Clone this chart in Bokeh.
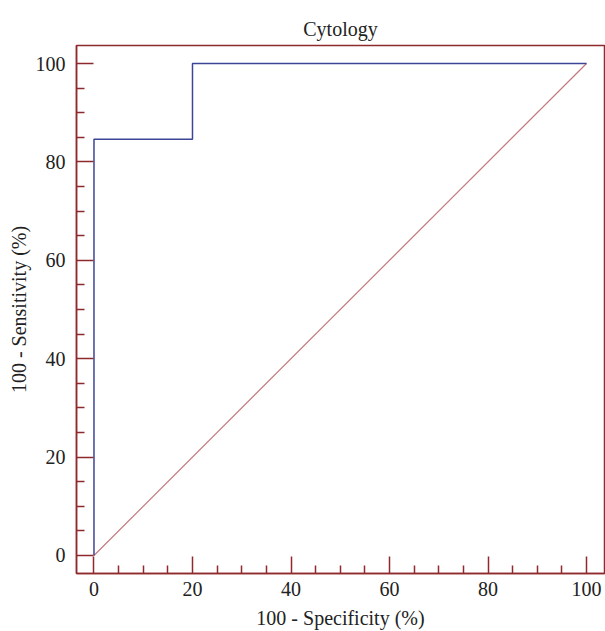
from bokeh.plotting import figure
from bokeh.models import Range1d, FixedTicker
from bokeh.embed import file_html
from bokeh.resources import INLINE

# ROC curve data (100 - Specificity, Sensitivity)
roc_x = [0, 0, 20, 20, 100]
roc_y = [0, 84.6, 84.6, 100, 100]
diag_x = [0, 100]
diag_y = [0, 100]
major_ticks = [0, 20, 40, 60, 80, 100]
minor_ticks = [5, 10, 15, 25, 30, 35, 45, 50, 55, 65, 70, 75, 85, 90, 95]

FONT = "Liberation Serif"
FRAME = "#8e2a2e"

p = figure(width=605, height=631, output_backend="svg", toolbar_location=None,
           x_range=Range1d(-3.55, 103.65), y_range=Range1d(-3.66, 103.66),
           title="Cytology", x_axis_label="100 - Specificity (%)",
           y_axis_label="100 - Sensitivity (%)")
p.min_border_left = 76
p.min_border_right = 1
p.min_border_bottom = 58
p.min_border_top = 45

p.title.text_font = FONT
p.title.text_font_size = "20px"
p.title.text_font_style = "normal"
p.title.align = "center"
p.title.vertical_align = "middle"
p.title.text_color = "#222222"
p.title.offset = 0

p.xgrid.visible = False
p.ygrid.visible = False
p.outline_line_color = FRAME
p.outline_line_width = 1.5
p.background_fill_color = "white"
p.border_fill_color = "white"

for ax in (p.xaxis[0], p.yaxis[0]):
    ax.ticker = FixedTicker(ticks=major_ticks, minor_ticks=minor_ticks)
    ax.axis_line_color = FRAME
    ax.axis_line_width = 1.5
    ax.major_tick_line_color = FRAME
    ax.minor_tick_line_color = FRAME
    ax.major_tick_line_width = 1.5
    ax.minor_tick_line_width = 1.5
    ax.major_tick_in = 17
    ax.major_tick_out = 0
    ax.minor_tick_in = 8
    ax.minor_tick_out = 0
    ax.major_label_text_font = FONT
    ax.major_label_text_font_size = "20px"
    ax.major_label_text_color = "#222222"
    ax.axis_label_text_font = FONT
    ax.axis_label_text_font_size = "20px"
    ax.axis_label_text_font_style = "normal"
    ax.axis_label_text_color = "#222222"

p.xaxis.major_label_standoff = 8
p.yaxis.major_label_standoff = 11
p.xaxis.axis_label_standoff = 8
p.yaxis.axis_label_standoff = 3

p.line(diag_x, diag_y, line_color="#c27a7e", line_width=1.2)
p.line(roc_x, roc_y, line_color="#3d4596", line_width=1.5)

open("out.html", "w").write(file_html(p, INLINE))
